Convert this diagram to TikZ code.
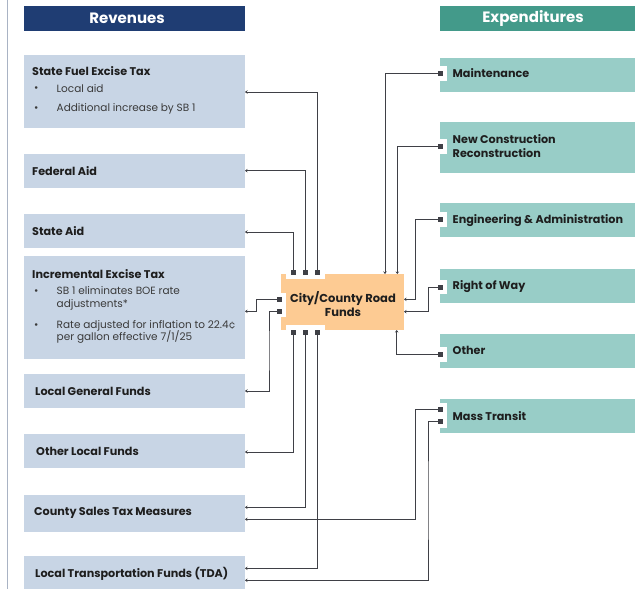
\documentclass[tikz,border=0pt]{standalone}
\usepackage{fontspec}
\setmainfont{Poppins}
\usetikzlibrary{arrows.meta}
\definecolor{navy}{HTML}{1F3D73}
\definecolor{tealh}{HTML}{439A8A}
\definecolor{revfill}{HTML}{C8D5E5}
\definecolor{expfill}{HTML}{98CDC7}
\definecolor{cenfill}{HTML}{FDCB93}
\definecolor{linec}{HTML}{3F4046}
\definecolor{bordc}{HTML}{A9B3C4}
\definecolor{txt}{HTML}{1E1E1E}
\definecolor{bultxt}{HTML}{3A3A3A}
\tikzset{
  box/.style={draw=none, anchor=north west, inner sep=0pt, outer sep=0pt},
  revbox/.style={box, fill=revfill, minimum width=221pt},
  expbox/.style={box, fill=expfill, minimum width=195pt},
  notch/.style={box, fill=white},
  hdr/.style={box, minimum height=25pt},
  hdrtxt/.style={inner sep=0pt, text=white, font=\fontsize{15}{17}\selectfont\bfseries},
  ttl/.style={anchor=west, inner sep=0pt, text=txt, font=\fontsize{11.2}{14}\selectfont\bfseries},
  bul/.style={anchor=west, inner sep=0pt, text=bultxt, align=left, font=\fontsize{10.5}{12.7}\selectfont},
  conn/.style={draw=linec, line width=0.9pt, -{Stealth[length=2.5pt,width=3.5pt]}},
  sq/.style={fill=linec, minimum size=5pt, inner sep=0pt, outer sep=0pt}
}
\begin{document}
\begin{tikzpicture}[x=1pt,y=-1pt]
\useasboundingbox (0,0) rectangle (639,589);
\fill[white] (0,0) rectangle (639,589);
% left border
\draw[draw=bordc, line width=1.5pt] (7.5,0) -- (7.5,589);

% headers
\node[hdr, fill=navy, minimum width=221pt] (hrev) at (24,6) {};
\node[hdr, fill=tealh, minimum width=195pt] (hexp) at (440,6) {};
\node[hdrtxt] (hrevt) at (127,18) {Revenues};
\node[hdrtxt] (hexpt) at (533,18.5) {Expenditures};

% revenue boxes
\node[revbox, minimum height=73pt] (rev1) at (24,55) {};
\node[revbox, minimum height=34pt] (rev2) at (24,154) {};
\node[revbox, minimum height=34pt] (rev3) at (24,214) {};
\node[revbox, minimum height=103pt] (rev4) at (24,256) {};
\node[revbox, minimum height=34pt] (rev5) at (24,374) {};
\node[revbox, minimum height=34pt] (rev6) at (24,434) {};
\node[revbox, minimum height=37pt] (rev7) at (24,495) {};
\node[revbox, minimum height=33pt] (rev8) at (24,556) {};

\node[ttl] (rev1t) at (32,71) {State Fuel Excise Tax};
\node[bul] (rev1b1) at (34,89) {•};
\node[bul] (rev1l1) at (56.5,89) {Local aid};
\node[bul] (rev1b2) at (34,109) {•};
\node[bul] (rev1l2) at (56.5,109) {Additional increase by SB 1};
\node[ttl] (rev2t) at (32,171) {Federal Aid};
\node[ttl] (rev3t) at (32,231.5) {State Aid};
\node[ttl] (rev4t) at (32,274) {Incremental Excise Tax};
\node[bul] (rev4b1) at (34,292.3) {•};
\node[bul] (rev4l1) at (56.5,298.7) {SB 1 eliminates BOE rate\\adjustments*};
\node[bul] (rev4b2) at (34,325.7) {•};
\node[bul] (rev4l2) at (56.5,332) {Rate adjusted for inflation to 22.4¢\\per gallon effective 7/1/25};
\node[ttl] (rev5t) at (35,391) {Local General Funds};
\node[ttl] (rev6t) at (36,451.5) {Other Local Funds};
\node[ttl] (rev7t) at (34,513) {County Sales Tax Measures};
\node[ttl] (rev8t) at (35,574) {Local Transportation Funds (TDA)};

% expenditure boxes
\node[expbox, minimum height=34pt] (exp1) at (440,58) {};
\node[expbox, minimum height=51pt] (exp2) at (440,122) {};
\node[expbox, minimum height=34pt] (exp3) at (440,203) {};
\node[expbox, minimum height=34pt] (exp4) at (440,269) {};
\node[expbox, minimum height=34pt] (exp5) at (440,334) {};
\node[expbox, minimum height=34pt] (exp6) at (440,399) {};
\node[notch, minimum width=7pt, minimum height=15pt] (n1) at (440,66) {};
\node[notch, minimum width=7pt, minimum height=15pt] (n2) at (440,139) {};
\node[notch, minimum width=7pt, minimum height=15pt] (n3) at (440,212) {};
\node[notch, minimum width=7pt, minimum height=14pt] (n4) at (440,280) {};
\node[notch, minimum width=7pt, minimum height=15pt] (n5) at (440,347) {};
\node[notch, minimum width=7pt, minimum height=25pt] (n6) at (440,403) {};

\node[ttl] (exp1t) at (452.5,73.3) {Maintenance};
\node[ttl, align=left] (exp2t) at (452.5,146) {New Construction\\Reconstruction};
\node[ttl] (exp3t) at (452.5,220.3) {Engineering \& Administration};
\node[ttl] (exp4t) at (452.5,286.7) {Right of Way};
\node[ttl] (exp5t) at (452.5,350.7) {Other};
\node[ttl] (exp6t) at (452.5,415.7) {Mass Transit};

% center box
\node[box, fill=cenfill, minimum width=123pt, minimum height=56pt] (cen) at (281,274) {};
\node[notch, minimum width=39pt, minimum height=5pt] (cn1) at (286,274) {};
\node[notch, minimum width=39pt, minimum height=5pt] (cn2) at (286,325) {};
\node[notch, minimum width=5pt, minimum height=24pt] (cn3) at (281,293) {};
\node[ttl, anchor=center, align=center, font=\fontsize{11.5}{14.3}\selectfont\bfseries] (cent) at (343,304) {City/County Road\\Funds};

% square anchor points
\coordinate (pT1) at (293.3,272.3);
\coordinate (pT2) at (305.3,272.3);
\coordinate (pT3) at (317.3,272.3);
\coordinate (pB1) at (293.3,332.3);
\coordinate (pB2) at (305.3,332.3);
\coordinate (pB3) at (317.3,332.3);
\coordinate (pL1) at (279.3,299.3);
\coordinate (pL2) at (279.3,311);
\coordinate (pE1) at (440,73.3);
\coordinate (pE2) at (440,146.3);
\coordinate (pE3) at (440,219.3);
\coordinate (pE4) at (440,287.3);
\coordinate (pE5) at (440,354.3);
\coordinate (pE6a) at (440,409.3);
\coordinate (pE6b) at (440,421);

% revenue connectors
\draw[conn] (pT3) |- (rev1.east |- 0,92);
\draw[conn] (pT2) |- (rev2.east |- 0,170.7);
\draw[conn] (pT1) |- (rev3.east |- 0,232);
\draw[conn] (pL1) -| (256.7,305) |- (rev4.east |- 0,311.3);
\draw[conn] (pL2) -| (269,350) |- (rev5.east |- 0,391);
\draw[conn] (pB1) |- (rev6.east |- 0,452);
\draw[conn] (pB2) |- (rev7.east |- 0,507.3);
\draw[conn] (pB3) |- (rev8.east |- 0,568.3);

% expenditure connectors
\draw[conn] (pE1) -| (cen.north -| 385,0);
\draw[conn] (pE2) -| (cen.north -| 397.3,0);
\draw[conn] (pE3) -| (415.3,260) |- (cen.east |- 0,299.3);
\draw[conn] (pE4) -| (428.3,300) |- (cen.east |- 0,311.7);
\draw[conn] (pE5) -| (cen.south -| 396.7,0);
\draw[conn] (pE6a) -| (415.3,450) |- (rev7.east |- 0,519.3);
\draw[conn] (pE6b) -| (428,500) |- (rev8.east |- 0,580.3);

% squares
\foreach \p in {pT1,pT2,pT3,pB1,pB2,pB3,pL1,pL2,pE1,pE2,pE3,pE4,pE5,pE6a,pE6b}
  \node[sq] (s\p) at (\p) {};
\end{tikzpicture}
\end{document}
